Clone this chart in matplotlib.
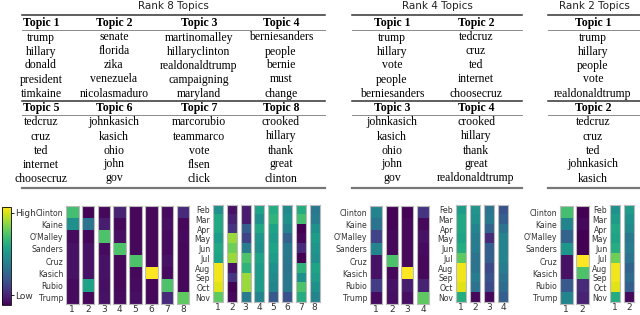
import numpy as np
import matplotlib.pyplot as plt
from matplotlib.lines import Line2D
import matplotlib as mpl

# Topic words for each rank
rank8_headers = [["Topic 1", "Topic 2", "Topic 3", "Topic 4"],
                 ["Topic 5", "Topic 6", "Topic 7", "Topic 8"]]
rank8_words = [
    [["trump", "hillary", "donald", "president", "timkaine"],
     ["senate", "florida", "zika", "venezuela", "nicolasmaduro"],
     ["martinomalley", "hillaryclinton", "realdonaldtrump", "campaigning", "maryland"],
     ["berniesanders", "people", "bernie", "must", "change"]],
    [["tedcruz", "cruz", "ted", "internet", "choosecruz"],
     ["johnkasich", "kasich", "ohio", "john", "gov"],
     ["marcorubio", "teammarco", "vote", "flsen", "click"],
     ["crooked", "hillary", "thank", "great", "clinton"]],
]
rank4_headers = [["Topic 1", "Topic 2"], ["Topic 3", "Topic 4"]]
rank4_words = [
    [["trump", "hillary", "vote", "people", "berniesanders"],
     ["tedcruz", "cruz", "ted", "internet", "choosecruz"]],
    [["johnkasich", "kasich", "ohio", "john", "gov"],
     ["crooked", "hillary", "thank", "great", "realdonaldtrump"]],
]
rank2_headers = [["Topic 1"], ["Topic 2"]]
rank2_words = [
    [["trump", "hillary", "people", "vote", "realdonaldtrump"]],
    [["tedcruz", "cruz", "ted", "johnkasich", "kasich"]],
]

people = ["Clinton", "Kaine", "O'Malley", "Sanders", "Cruz", "Kasich", "Rubio", "Trump"]
months = ["Feb", "Mar", "Apr", "May", "Jun", "Jul", "Aug", "Sep", "Oct", "Nov"]

# factor loadings (one list per topic), 0 = low, 1 = high
rank8_people = [
    [0.70, 0.50, 0.03, 0.05, 0.05, 0.05, 0.03, 0.03],
    [0.01, 0.38, 0.02, 0.05, 0.05, 0.05, 0.58, 0.02],
    [0.02, 0.08, 0.72, 0.03, 0.05, 0.05, 0.04, 0.05],
    [0.10, 0.02, 0.04, 0.72, 0.02, 0.02, 0.02, 0.03],
    [0.02, 0.02, 0.02, 0.02, 0.72, 0.02, 0.03, 0.04],
    [0.02, 0.02, 0.02, 0.02, 0.02, 1.00, 0.02, 0.02],
    [0.03, 0.04, 0.03, 0.03, 0.05, 0.03, 0.72, 0.12],
    [0.12, 0.02, 0.03, 0.02, 0.02, 0.02, 0.02, 0.75],
]
rank8_months = [
    [0.50, 0.60, 0.60, 0.55, 0.60, 0.58, 0.98, 0.98, 0.95, 0.75],
    [0.05, 0.10, 0.15, 0.85, 0.78, 0.85, 0.05, 0.15, 0.00, 0.02],
    [0.08, 0.08, 0.30, 0.20, 0.42, 0.72, 0.65, 0.85, 0.85, 0.42],
    [0.58, 0.50, 0.60, 0.52, 0.50, 0.58, 0.55, 0.55, 0.55, 0.45],
    [0.62, 0.65, 0.58, 0.55, 0.58, 0.55, 0.50, 0.48, 0.45, 0.28],
    [0.48, 0.50, 0.45, 0.32, 0.40, 0.40, 0.38, 0.40, 0.40, 0.25],
    [0.62, 0.70, 0.00, 0.02, 0.12, 0.00, 0.65, 0.50, 0.72, 0.62],
    [0.40, 0.42, 0.50, 0.55, 0.52, 0.50, 0.58, 0.55, 0.50, 0.45],
]
rank4_people = [
    [0.45, 0.38, 0.20, 0.45, 0.05, 0.05, 0.18, 0.03],
    [0.01, 0.01, 0.02, 0.02, 0.72, 0.02, 0.05, 0.04],
    [0.01, 0.02, 0.02, 0.02, 0.02, 1.00, 0.08, 0.04],
    [0.15, 0.02, 0.05, 0.03, 0.02, 0.02, 0.10, 0.75],
]
rank4_months = [
    [0.55, 0.60, 0.60, 0.58, 0.62, 0.75, 0.98, 0.98, 0.95, 0.62],
    [0.52, 0.50, 0.45, 0.42, 0.42, 0.38, 0.38, 0.42, 0.38, 0.02],
    [0.38, 0.40, 0.32, 0.12, 0.30, 0.30, 0.22, 0.25, 0.22, 0.02],
    [0.25, 0.30, 0.38, 0.45, 0.45, 0.45, 0.42, 0.38, 0.35, 0.30],
]
rank2_people = [
    [0.70, 0.45, 0.32, 0.52, 0.05, 0.05, 0.28, 0.45],
    [0.00, 0.02, 0.00, 0.00, 1.00, 0.72, 0.12, 0.10],
]
rank2_months = [
    [0.50, 0.55, 0.60, 0.58, 0.62, 0.78, 0.98, 0.98, 0.95, 0.62],
    [0.55, 0.50, 0.48, 0.40, 0.42, 0.38, 0.32, 0.35, 0.30, 0.02],
]

W, H = 640, 315
fig = plt.figure(figsize=(W / 100, H / 100), dpi=100)


def fx(x):
    return x / W


def fy(y):
    return 1 - y / H


def hline(x0, x1, y, lw, color):
    fig.add_artist(Line2D([fx(x0), fx(x1)], [fy(y), fy(y)], lw=lw, color=color,
                          transform=fig.transFigure))


def draw_table(title, x0, x1, centers, headers, words):
    serif = "Liberation Serif"
    fig.text(fx((x0 + x1) / 2), fy(6), title, ha="center", va="center",
             fontsize=7.5, family="DejaVu Sans", color="#222222")
    hline(x0, x1, 15, 1.1, "#333333")
    top = 23
    for b in range(len(headers)):
        for c, cx in enumerate(centers):
            fig.text(fx(cx), fy(top), headers[b][c], ha="center", va="center",
                     fontsize=8.5, family=serif, weight="bold")
            for r, w in enumerate(words[b][c]):
                fig.text(fx(cx), fy(top + 14.5 + r * 14), w, ha="center",
                         va="center", fontsize=8.5, family=serif)
        hline(x0, x1, top + 7, 0.6, "#777777")
        if b == 0:
            hline(x0, x1, top + 77.5, 1.1, "#333333")
        top += 85
    hline(x0, x1, 188, 1.6, "#777777")


draw_table("Rank 8 Topics", 22, 325, [41, 114, 199, 281], rank8_headers, rank8_words)
draw_table("Rank 4 Topics", 352, 522, [392, 476], rank4_headers, rank4_words)
draw_table("Rank 2 Topics", 548, 640, [593], rank2_headers, rank2_words)

cmap = plt.get_cmap("viridis")


def draw_heat(values, labels, x0, pitch, width, y0, y1):
    for i, col in enumerate(values):
        xs = x0 + i * pitch
        ax = fig.add_axes([fx(xs), fy(y1), width / W, (y1 - y0) / H])
        ax.imshow(np.array(col).reshape(-1, 1), cmap=cmap, vmin=0, vmax=1,
                  aspect="auto", interpolation="nearest")
        ax.set_xticks([0])
        ax.set_xticklabels([str(i + 1)], fontsize=6.5, color="#333333")
        ax.tick_params(axis="x", length=0, pad=0.5)
        if i == 0:
            ax.set_yticks(range(len(labels)))
            ax.set_yticklabels(labels, fontsize=5.6, color="#333333")
            ax.tick_params(axis="y", length=0, pad=2)
        else:
            ax.set_yticks([])
        for s in ax.spines.values():
            s.set_color("#bbbbbb")
            s.set_linewidth(0.8)


draw_heat(rank8_people, people, 66, 15.8, 12.5, 206, 304)
draw_heat(rank8_months, months, 213, 13.8, 10, 205, 302)
draw_heat(rank4_people, people, 370, 15.6, 12.3, 206, 304)
draw_heat(rank4_months, months, 456, 14.1, 9.5, 205, 302)
draw_heat(rank2_people, people, 560, 16, 12.5, 206, 304)
draw_heat(rank2_months, months, 610, 14, 9.5, 205, 302)

# colour scale
cax = fig.add_axes([fx(2), fy(305), 9 / W, 98 / H])
sm = mpl.cm.ScalarMappable(cmap=cmap, norm=mpl.colors.Normalize(0, 1))
cb = fig.colorbar(sm, cax=cax, ticks=[0.1, 0.94])
cb.ax.set_yticklabels(["Low", "High"], fontsize=6.5, color="#333333")
cb.ax.tick_params(length=2, width=0.6, pad=1)
cb.outline.set_linewidth(0.6)

fig.savefig("out.png", dpi=100)
